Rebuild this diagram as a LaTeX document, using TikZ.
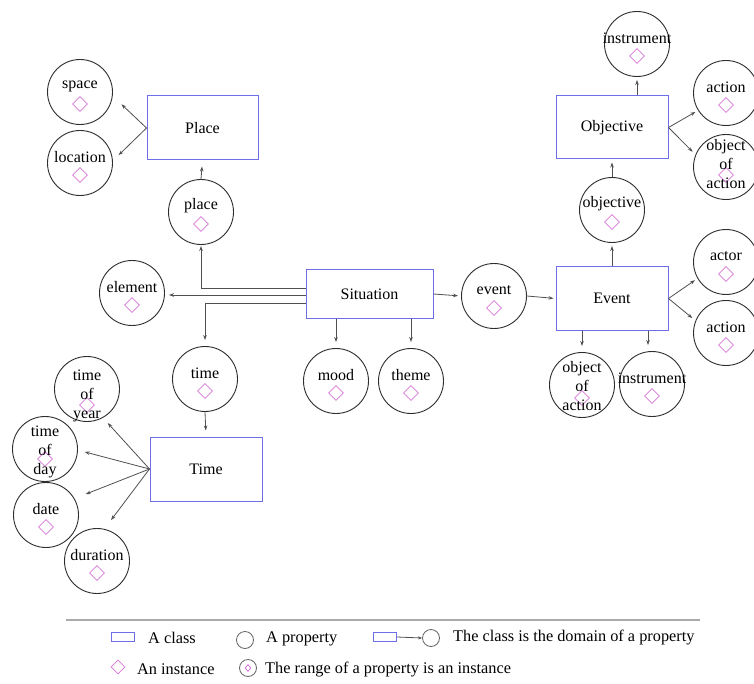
\documentclass[tikz,border=0pt]{standalone}
\usepackage{fontspec}
\setmainfont{Liberation Serif}
\usetikzlibrary{shapes.geometric,arrows.meta,calc}
\definecolor{boxblue}{RGB}{110,110,230}
\definecolor{linegray}{RGB}{80,80,80}
\definecolor{circgray}{RGB}{45,45,45}
\definecolor{legcirc}{RGB}{100,100,100}
\definecolor{instpink}{RGB}{215,120,215}
\definecolor{rulegray}{RGB}{170,170,170}
\tikzset{
 cls/.style={draw=boxblue, line width=1pt, rectangle, inner sep=0, font=\fontsize{16}{19}\selectfont},
 propc/.style={draw=circgray, line width=0.9pt, circle, minimum size=65pt, inner sep=0},
 ptext/.style={inner sep=0, align=center, font=\fontsize{16}{19}\selectfont},
 inst/.style={draw=instpink, line width=0.8pt, diamond, minimum width=15pt, minimum height=15pt, inner sep=0},
 arr/.style={draw=linegray, line width=0.8pt, -{Stealth[length=5pt,width=3.5pt]}},
 ltext/.style={inner sep=0, anchor=west, font=\fontsize{16.3}{19}\selectfont},
 lrect/.style={draw=boxblue, line width=1pt, rectangle, minimum width=23pt, minimum height=9pt, inner sep=0},
 lcirc/.style={draw=legcirc, line width=0.8pt, circle, minimum size=17pt, inner sep=0},
}
\newcommand\propnode[4]{%
 \node[propc] (#1) at (#2,#3) {};
 \node[inst] (#1-d) at ([yshift=-12pt]#1.center) {};
 \node[ptext] (#1-t) at ([yshift=6pt]#1.center) {#4};
}
% #5 text shift, #6 diamond shift
\newcommand\propmulti[6]{%
 \node[propc] (#1) at (#2,#3) {};
 \node[inst] (#1-d) at ([yshift=#6]#1.center) {};
 \node[ptext] (#1-t) at ([yshift=#5]#1.center) {#4};
}
\begin{document}
\begin{tikzpicture}[x=1pt,y=-1pt]
\useasboundingbox (0,0) rectangle (754,684);
\fill[white] (0,0) rectangle (754,684);

% classes
\node[cls, minimum width=111pt, minimum height=64pt] (Place) at (202.5,128) {Place};
\node[cls, minimum width=127pt, minimum height=48pt] (Situation) at (369.5,294) {Situation};
\node[cls, minimum width=112pt, minimum height=64pt] (Time) at (206,469) {Time};
\node[cls, minimum width=112pt, minimum height=63pt] (Objective) at (612,127.5) {Objective};
\node[cls, minimum width=112pt, minimum height=63pt] (Event) at (612,298.5) {Event};

% properties
\propnode{space}{80}{92}{space}
\propnode{location}{80}{163}{location}
\propnode{place}{201}{212}{place}
\propnode{element}{132}{293}{element}
\propnode{time}{205}{379}{time}
\propnode{mood}{336}{381}{mood}
\propnode{theme}{411}{381}{theme}
\propmulti{toy}{87}{389}{time\\of\\year}{-7pt}{-16pt}
\propmulti{tod}{45}{449}{time\\of\\day}{-3pt}{-10pt}
\propnode{date}{46}{515}{date}
\propnode{duration}{97}{561}{duration}
\propnode{instrA}{637}{44}{instrument}
\propnode{actionA}{726}{93}{action}
\propmulti{ooaA}{726}{167}{object\\of\\action}{3pt}{-8pt}
\propnode{objective}{612}{210}{objective}
\propnode{actor}{726}{262}{actor}
\propnode{actionB}{726}{333}{action}
\propnode{event}{494}{296}{event}
\propmulti{ooaB}{582}{385}{object\\of\\action}{-1pt}{-13pt}
\propnode{instrB}{652}{384}{instrument}

% connectors: Place
\draw[arr, shorten >=12pt] (Place.west) -- (space.-7);
\draw[arr, shorten >=8pt] (Place.west) -- (location.4);
\draw[arr, shorten >=6pt] (place.north) -- (Place.south);
% Situation
\draw[arr, shorten >=1pt] ([yshift=6pt]Situation.west) -| (place.south);
\draw[arr, shorten >=4pt] ([yshift=-1pt]Situation.west) -- ([yshift=-1pt]Situation.west -| element.east);
\draw[arr, shorten >=6pt] ([yshift=-9pt]Situation.west) -| (time.north);
\draw[arr, shorten >=6pt] (Situation.south -| mood.north) -- (mood.north);
\draw[arr, shorten >=6pt] (Situation.south -| theme.north) -- (theme.north);
\draw[arr, shorten >=3pt] (Situation.east) -- (event.west);
% Time
\draw[arr, shorten >=6pt] (time.south) -- (Time.north);
\draw[arr, shorten >=7pt] (Time.west) -- (toy.-61);
\draw[arr, shorten >=7pt] (Time.west) -- (tod.-2);
\draw[arr, shorten >=12pt] (Time.west) -- (date.30);
\draw[arr, shorten >=11pt] (Time.west) -- (duration.77);
% Event
\draw[arr, shorten >=2pt] (event.east) -- (Event.west);
\draw[arr, shorten >=3pt] (Event.north) -- (objective.south);
\draw[arr, shorten >=3pt] (Event.east) -- (actor.-150);
\draw[arr, shorten >=4pt] (Event.east) -- (actionB.158);
\draw[arr, shorten >=6pt] (Event.south -| ooaB.north) -- (ooaB.north);
\draw[arr, shorten >=6pt] ([xshift=-4pt]Event.south -| instrB.north) -- ([xshift=-4pt]instrB.north);
% Objective
\draw[arr, shorten >=3pt] (objective.north) -- (Objective.south);
\draw[arr, shorten >=3pt] (Objective.north -| instrA.south) -- (instrA.south);
\draw[arr, shorten >=3pt] (Objective.east) -- (actionA.-148);
\draw[arr, shorten >=4pt] (Objective.east) -- (ooaA.158);

% legend
\draw[rulegray, line width=1.2pt] (66,620) -- (700,620);
\node[lrect] (lgcls) at (123,637) {};
\node[ltext] (lgclst) at (148,638) {A class};
\node[lcirc] (lgprop) at (245,640) {};
\node[ltext] (lgpropt) at (266,639) {A property};
\node[lrect] (lgdom) at (385,637) {};
\node[lcirc] (lgdomc) at (431,638) {};
\draw[arr, -{Stealth[length=4pt,width=3pt]}] (lgdom.east) -- (lgdomc.west);
\node[ltext] (lgdomt) at (453,638) {The class is the domain of a property};
\node[inst, minimum width=14pt, minimum height=14pt] (lginst) at (118,667) {};
\node[ltext] (lginstt) at (137,669) {An instance};
\node[lcirc] (lgrange) at (248,668) {};
\node[inst, minimum width=6pt, minimum height=7pt] (lgranged) at (lgrange) {};
\node[ltext] (lgranget) at (265,670) {The range of a property is an instance};
\end{tikzpicture}
\end{document}
